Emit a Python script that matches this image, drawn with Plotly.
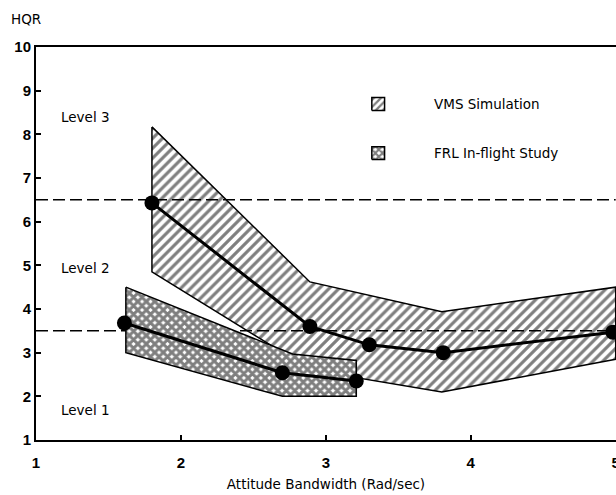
import plotly.graph_objects as go

# ---- data ----
vms_x = [1.8, 2.89, 3.3, 3.81, 4.98]
vms_y = [6.43, 3.6, 3.18, 3.0, 3.47]
vms_upper_x = [1.8, 2.89, 3.8, 5.0]
vms_upper_y = [8.17, 4.62, 3.94, 4.5]
vms_lower_x = [1.8, 2.9, 3.8, 5.0]
vms_lower_y = [4.85, 2.6, 2.1, 2.85]

frl_x = [1.61, 2.7, 3.21]
frl_y = [3.68, 2.54, 2.35]
frl_upper_x = [1.62, 2.77, 3.21]
frl_upper_y = [4.5, 2.97, 2.82]
frl_lower_x = [1.62, 2.7, 3.21]
frl_lower_y = [3.0, 2.0, 2.0]

level_bounds = [3.5, 6.5]
level_labels = ["Level 3", "Level 2", "Level 1"]
level_label_y = [8.4, 4.94, 1.69]
x_ticks = [1, 2, 3, 4, 5]
y_ticks = list(range(1, 11))
legend_names = ["VMS Simulation", "FRL In-flight Study"]

FONT = "DejaVu Sans, Liberation Sans, sans-serif"
TICKFONT = "Liberation Sans, Arial, sans-serif"

fig = go.Figure()

def band(ux, uy, lx, ly):
    return ux + lx[::-1] + [ux[0]], uy + ly[::-1] + [uy[0]]

# VMS band
bx, by = band(vms_upper_x, vms_upper_y, vms_lower_x, vms_lower_y)
fig.add_trace(go.Scatter(x=bx, y=by, mode="lines", fill="toself",
                         fillcolor="white",
                         fillpattern=dict(shape="/", size=7, solidity=0.45,
                                          fgcolor="black", bgcolor="white"),
                         line=dict(color="black", width=1.5),
                         showlegend=False, hoverinfo="skip"))

# dashed level boundaries
for b in level_bounds:
    fig.add_trace(go.Scatter(x=[1, 5.0], y=[b, b], mode="lines",
                             line=dict(color="black", width=1.5, dash="12px,5px"),
                             showlegend=False, hoverinfo="skip"))

# FRL band
fx, fy = band(frl_upper_x, frl_upper_y, frl_lower_x, frl_lower_y)
fig.add_trace(go.Scatter(x=fx, y=fy, mode="lines", fill="toself",
                         fillcolor="white",
                         fillpattern=dict(shape="x", size=6, solidity=0.75,
                                          fgcolor="black", bgcolor="white"),
                         line=dict(color="black", width=1.5),
                         showlegend=False, hoverinfo="skip"))

# mean lines
fig.add_trace(go.Scatter(x=vms_x, y=vms_y, mode="lines+markers",
                         line=dict(color="black", width=3),
                         marker=dict(color="black", size=15),
                         showlegend=False, cliponaxis=False))
fig.add_trace(go.Scatter(x=frl_x, y=frl_y, mode="lines+markers",
                         line=dict(color="black", width=3),
                         marker=dict(color="black", size=15),
                         showlegend=False))

# legend squares on overlay axes (0..1 of plot area)
leg_cx = 0.59
leg_cy = [0.855, 0.730]
dx, dy = 0.011, 0.0165
patterns = [dict(shape="/", size=5, solidity=0.45, fgcolor="black", bgcolor="white"),
            dict(shape="x", size=5, solidity=0.65, fgcolor="black", bgcolor="white")]
for cy, pat in zip(leg_cy, patterns):
    fig.add_trace(go.Scatter(x=[leg_cx - dx, leg_cx + dx, leg_cx + dx, leg_cx - dx, leg_cx - dx],
                             y=[cy - dy, cy - dy, cy + dy, cy + dy, cy - dy],
                             xaxis="x2", yaxis="y2", mode="lines", fill="toself",
                             fillcolor="white", fillpattern=pat,
                             line=dict(color="black", width=1.5),
                             showlegend=False, hoverinfo="skip"))

annotations = []
for name, cy in zip(legend_names, leg_cy):
    annotations.append(dict(x=0.683, y=cy, xref="x2", yref="y2", text=name,
                            showarrow=False, xanchor="left", yanchor="middle",
                            font=dict(family=FONT, size=13.5, color="black")))
for lab, ly in zip(level_labels, level_label_y):
    annotations.append(dict(x=0.04, y=ly, xref="paper", yref="y", text=lab,
                            showarrow=False, xanchor="left", yanchor="middle",
                            font=dict(family=FONT, size=13.5, color="black")))
annotations.append(dict(x=-0.046, y=1.07, xref="paper", yref="paper", text="HQR",
                        showarrow=False, xanchor="left", yanchor="middle",
                        font=dict(family=FONT, size=13.5, color="black")))

fig.update_layout(
    width=616, height=495,
    margin=dict(l=36, r=0, t=47, b=55, autoexpand=False),
    paper_bgcolor="white", plot_bgcolor="white",
    showlegend=False,
    annotations=annotations,
    xaxis=dict(range=[1, 5.002], tickvals=x_ticks, ticktext=[str(t) for t in x_ticks],
               showgrid=False, zeroline=False, showline=True, mirror=True,
               linecolor="black", linewidth=2, ticks="inside", ticklen=5,
               tickcolor="black", tickwidth=1.5, ticklabelstandoff=8,
               ticklabeloverflow="allow", automargin=False,
               tickfont=dict(family=TICKFONT, size=15, color="black", weight="bold"),
               title=dict(text="Attitude Bandwidth (Rad/sec)", standoff=10,
                          font=dict(family=FONT, size=13.5, color="black"))),
    yaxis=dict(range=[1, 10], tickvals=y_ticks, showgrid=False, zeroline=False,
               showline=True, linecolor="black", linewidth=2, automargin=False,
               ticks="inside", ticklen=5, tickcolor="black", tickwidth=1.5,
               tickfont=dict(family=TICKFONT, size=15, color="black", weight="bold")),
    xaxis2=dict(range=[0, 1], overlaying="x", visible=False, fixedrange=True),
    yaxis2=dict(range=[0, 1], overlaying="y", visible=False, fixedrange=True),
)

fig.write_html("out.html",
               config={"displayModeBar": False},
               post_script="document.body.style.margin='0px';"
                           "document.body.style.overflow='hidden';")
